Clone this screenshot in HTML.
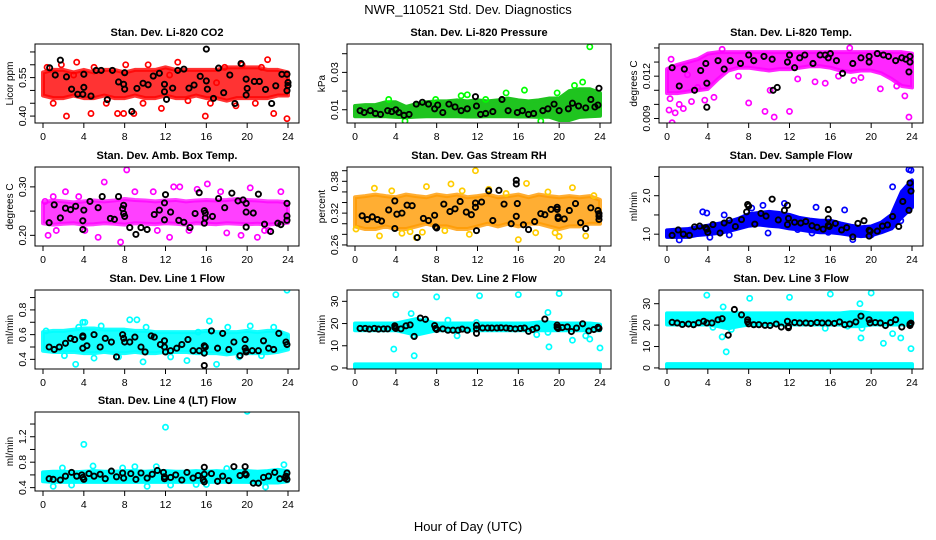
<!DOCTYPE html>
<html><head><meta charset="utf-8">
<style>
html,body{margin:0;padding:0;background:#fff;}
svg{display:block;font-family:"Liberation Sans",Arial,sans-serif;}
</style></head>
<body>
<svg id="chart" width="936" height="540" viewBox="0 0 936 540" xmlns="http://www.w3.org/2000/svg">
<rect x="0" y="0" width="936" height="540" fill="#fff"/>
<text x="468" y="14" text-anchor="middle" font-size="13">NWR_110521  Std. Dev. Diagnostics</text>
<text x="468" y="531" text-anchor="middle" font-size="13">Hour of Day (UTC)</text>
<g id="panels"></g>
</svg>
<script>
const bandHours=[0,1,2,3,4,5,6,7,8,9,10,11,12,13,14,15,16,17,18,19,20,21,22,23,24];
const xTicks=[0,4,8,12,16,20,24];

// CO2
const co2Lo=[0.48,0.47,0.47,0.48,0.47,0.47,0.48,0.47,0.47,0.48,0.47,0.47,0.48,0.47,0.47,0.48,0.47,0.47,0.46,0.47,0.47,0.47,0.47,0.48,0.48];
const co2Hi=[0.57,0.58,0.58,0.57,0.58,0.57,0.58,0.58,0.57,0.58,0.58,0.58,0.59,0.58,0.58,0.58,0.58,0.58,0.59,0.59,0.59,0.59,0.58,0.58,0.57];
const co2Pts=[[0.4,0.59],[1.8,0.60],[2.3,0.40],[3.3,0.61],[4.7,0.41],[5.0,0.59],[7.3,0.41],[7.9,0.41],[8.1,0.60],[8.9,0.41],[10.3,0.60],[11.6,0.43],[13.2,0.61],[15.9,0.40],[17.8,0.59],[18.9,0.44],[19.5,0.60],[21.4,0.59],[22.0,0.62],[22.6,0.41],[23.9,0.39],[1.0,0.45],[6.2,0.45],[9.8,0.45],[14.2,0.46],[16.4,0.45],[20.8,0.45],[3.0,0.56],[12.4,0.56],[17.0,0.53]];
const co2Ref=[[0.65,0.588],[1.7,0.618],[1.2,0.56],[2.3,0.553],[2.8,0.505],[3.4,0.485],[3.9,0.485],[4.0,0.512],[4.0,0.563],[4.7,0.478],[5.2,0.578],[5.7,0.578],[6.3,0.464],[6.8,0.578],[7.4,0.533],[7.9,0.524],[8.0,0.569],[8.0,0.505],[8.7,0.418],[9.2,0.508],[9.8,0.528],[10.3,0.522],[10.8,0.556],[11.4,0.567],[11.9,0.524],[11.9,0.495],[12.1,0.465],[12.7,0.509],[13.2,0.578],[13.8,0.583],[14.3,0.509],[14.8,0.521],[15.4,0.555],[16.0,0.661],[16.0,0.537],[16.1,0.505],[16.7,0.469],[17.2,0.587],[17.7,0.491],[18.3,0.56],[18.8,0.449],[19.4,0.605],[19.9,0.544],[20.0,0.508],[19.9,0.482],[20.7,0.535],[21.2,0.535],[21.8,0.504],[22.4,0.449],[22.8,0.518],[23.4,0.563],[23.9,0.563],[24.0,0.531],[24.0,0.519],[23.9,0.499]];
const co2Ticks=[0.40,0.45,0.50,0.55,0.60,0.65];
const co2Labels=["0.40","","","0.55","",""];

// Pressure
const presLo=[0.0065,0.0065,0.0065,0.0065,0.0062,0.006,0.0063,0.0065,0.0065,0.0065,0.0065,0.0064,0.0064,0.0065,0.0065,0.0065,0.0064,0.0064,0.0062,0.0063,0.0045,0.0045,0.0062,0.0065,0.0068];
const presHi=[0.012,0.0125,0.0125,0.014,0.014,0.0115,0.013,0.014,0.0145,0.0145,0.015,0.0145,0.015,0.0145,0.015,0.016,0.015,0.0145,0.015,0.016,0.016,0.02,0.021,0.021,0.019];
const presPts=[[23.0,0.0437],[22.3,0.0248],[21.5,0.023],[16.6,0.0205],[18.2,0.004],[11.0,0.018],[10.4,0.0175],[14.8,0.019],[19.8,0.019],[4.9,0.004],[3.3,0.0155],[7.9,0.0155],[12.8,0.0155]];
const presRef=[[0.5,0.0095],[0.9,0.0085],[1.5,0.0095],[2.0,0.008],[2.5,0.0075],[3.2,0.0095],[3.6,0.009],[4.0,0.010],[4.3,0.0085],[4.8,0.007],[5.3,0.0075],[6.0,0.013],[6.6,0.014],[7.2,0.013],[7.8,0.0105],[8.1,0.0125],[8.6,0.0085],[9.2,0.013],[9.8,0.0115],[10.4,0.0095],[11.0,0.0105],[11.8,0.017],[11.9,0.012],[12.3,0.0075],[12.8,0.008],[13.5,0.009],[14.4,0.0155],[15.0,0.0095],[15.9,0.0085],[16.4,0.0095],[17.0,0.0075],[17.5,0.008],[18.4,0.0095],[18.9,0.0105],[19.5,0.013],[20.0,0.0095],[20.9,0.0105],[21.3,0.0135],[21.9,0.012],[22.6,0.011],[23.1,0.0155],[23.5,0.0115],[23.8,0.0125],[23.9,0.0215]];
const presTicks=[0.01,0.02,0.03,0.04];
const presLabels=["0.01","","0.03",""];

// Li-820 temp
const tempLo=[0.0108,0.0108,0.0109,0.011,0.0111,0.0118,0.0124,0.0126,0.0126,0.0125,0.0124,0.0125,0.0125,0.0126,0.0127,0.0127,0.0126,0.0124,0.0123,0.0124,0.0124,0.0122,0.0118,0.0113,0.0112];
const tempHi=[0.0125,0.0128,0.013,0.0132,0.0136,0.0137,0.0137,0.0137,0.0137,0.0137,0.0137,0.0137,0.0137,0.0137,0.0137,0.0137,0.0137,0.0137,0.0137,0.0137,0.0137,0.0137,0.0137,0.0137,0.0136];
const tempPts=[[0.2,0.0096],[0.5,0.0087],[0.3,0.0104],[0.8,0.0094],[1.2,0.0100],[1.6,0.0097],[2.4,0.0102],[0.4,0.0132],[3.0,0.0112],[3.7,0.0103],[4.6,0.0105],[5.4,0.0139],[8.0,0.0101],[9.6,0.0095],[10.5,0.0091],[12.0,0.0095],[10.1,0.0110],[14.5,0.0116],[15.5,0.0115],[17.9,0.0140],[19.0,0.0119],[20.9,0.0111],[22.5,0.0113],[23.7,0.0091],[23.3,0.0106],[2.0,0.0121],[7.0,0.0120],[12.8,0.0118],[16.8,0.0120],[18.3,0.0117]];
const tempRef=[[0.5,0.0126],[1.2,0.0113],[1.7,0.0125],[2.7,0.0110],[3.3,0.0124],[3.8,0.0129],[3.9,0.0115],[3.9,0.0098],[5.0,0.0131],[5.6,0.0125],[6.2,0.0131],[7.2,0.0129],[8.0,0.0135],[8.5,0.0131],[9.5,0.0134],[10.3,0.0132],[10.4,0.0110],[10.8,0.0112],[11.8,0.0130],[12.0,0.0135],[12.5,0.0126],[13.0,0.0133],[13.5,0.0135],[14.3,0.0129],[15.0,0.0135],[15.5,0.0135],[15.8,0.0133],[16.0,0.0136],[16.6,0.0131],[17.2,0.0122],[18.2,0.0129],[19.0,0.0133],[19.8,0.0130],[19.8,0.0134],[20.6,0.0136],[21.2,0.0135],[21.7,0.0134],[22.4,0.0131],[23.0,0.0133],[23.4,0.0132],[23.7,0.0123],[23.8,0.0130],[23.8,0.0134]];
const tempTicks=[0.009,0.010,0.011,0.012,0.013,0.014];
const tempLabels=["0.009","","","0.012","",""];

// Amb box temp
const ambLo=[0.225,0.222,0.224,0.225,0.222,0.223,0.225,0.224,0.222,0.225,0.224,0.223,0.225,0.224,0.222,0.225,0.224,0.223,0.225,0.224,0.223,0.224,0.222,0.224,0.226];
const ambHi=[0.268,0.272,0.27,0.268,0.27,0.272,0.27,0.272,0.275,0.273,0.272,0.27,0.272,0.273,0.27,0.272,0.273,0.272,0.273,0.275,0.273,0.272,0.27,0.27,0.268];
const ambPts=[[0.2,0.27],[0.5,0.20],[1.0,0.28],[2.2,0.29],[3.5,0.28],[5.4,0.196],[6.0,0.31],[7.6,0.186],[8.2,0.335],[9.0,0.29],[10.8,0.29],[12.4,0.196],[12.8,0.30],[13.4,0.30],[15.1,0.295],[16.1,0.306],[17.4,0.29],[19.4,0.20],[20.3,0.298],[21.0,0.196],[22.1,0.21],[23.3,0.29],[1.3,0.21],[4.1,0.21],[11.2,0.21],[14.3,0.21],[18.0,0.205],[21.7,0.21]];
const ambRef=[[0.6,0.226],[1.1,0.263],[1.7,0.236],[2.2,0.256],[2.7,0.253],[3.2,0.260],[3.9,0.230],[3.9,0.212],[4.0,0.252],[4.6,0.270],[5.4,0.257],[5.8,0.280],[6.6,0.235],[7.0,0.233],[7.4,0.280],[7.8,0.255],[7.9,0.262],[7.9,0.245],[8.0,0.239],[8.5,0.216],[9.1,0.202],[9.6,0.216],[10.2,0.212],[10.9,0.243],[11.4,0.252],[11.9,0.232],[11.9,0.267],[12.0,0.284],[12.5,0.248],[13.3,0.231],[13.8,0.227],[14.4,0.216],[14.9,0.245],[15.3,0.288],[15.8,0.251],[15.9,0.246],[15.9,0.236],[15.8,0.225],[16.6,0.239],[17.2,0.276],[17.8,0.257],[18.5,0.287],[19.1,0.271],[19.6,0.273],[19.9,0.266],[19.9,0.248],[19.9,0.217],[20.6,0.246],[21.1,0.285],[21.7,0.223],[22.3,0.208],[23.0,0.225],[23.3,0.222],[23.9,0.266],[23.9,0.240],[23.9,0.231]];
const ambTicks=[0.20,0.25,0.30];
const ambLabels=["0.20","","0.30"];

// Gas stream RH
const rhLo=[0.295,0.29,0.29,0.295,0.29,0.29,0.295,0.30,0.295,0.295,0.29,0.29,0.295,0.30,0.295,0.30,0.295,0.30,0.30,0.295,0.29,0.295,0.295,0.30,0.30];
const rhHi=[0.35,0.352,0.355,0.352,0.35,0.355,0.352,0.35,0.355,0.352,0.355,0.35,0.352,0.355,0.35,0.352,0.355,0.35,0.355,0.352,0.35,0.352,0.35,0.352,0.345];
const rhPts=[[0.1,0.290],[1.9,0.367],[2.4,0.277],[3.6,0.362],[4.6,0.282],[5.4,0.285],[6.0,0.274],[7.0,0.370],[8.8,0.287],[9.4,0.375],[11.2,0.280],[11.8,0.400],[13.1,0.365],[16.0,0.270],[16.8,0.376],[17.7,0.283],[19.6,0.283],[20.0,0.276],[21.3,0.368],[22.6,0.277],[23.4,0.353],[10.5,0.362],[14.8,0.357],[18.9,0.360],[6.6,0.284]];
const rhRef=[[0.7,0.315],[1.2,0.308],[1.7,0.313],[2.2,0.308],[2.6,0.305],[3.3,0.326],[3.9,0.343],[3.9,0.291],[4.1,0.318],[4.6,0.320],[5.1,0.335],[5.6,0.334],[6.1,0.274],[6.7,0.310],[7.2,0.306],[7.8,0.316],[7.9,0.294],[8.0,0.292],[8.7,0.337],[9.3,0.323],[9.8,0.328],[10.3,0.342],[10.9,0.322],[11.4,0.317],[11.8,0.339],[11.8,0.331],[11.9,0.287],[12.4,0.341],[13.1,0.362],[13.5,0.306],[14.1,0.363],[14.6,0.337],[15.3,0.300],[15.8,0.382],[15.8,0.375],[15.8,0.314],[15.9,0.338],[16.5,0.298],[17.0,0.289],[17.6,0.304],[18.2,0.319],[18.6,0.317],[19.2,0.327],[19.8,0.331],[19.8,0.327],[19.9,0.310],[19.9,0.313],[20.5,0.309],[21.0,0.325],[21.6,0.338],[22.1,0.302],[22.6,0.291],[23.1,0.330],[23.9,0.319],[23.9,0.314],[23.9,0.308],[23.8,0.325]];
const rhTicks=[0.26,0.28,0.30,0.32,0.34,0.36,0.38,0.40];
const rhLabels=["0.26","","","0.32","","","0.38",""];

// Sample flow
const flowLo=[0.93,0.93,0.93,0.98,1.0,1.03,1.08,1.15,1.22,1.25,1.22,1.2,1.15,1.12,1.08,1.05,1.05,1.02,0.98,0.95,0.97,1.05,1.15,1.45,1.7];
const flowHi=[1.10,1.12,1.13,1.18,1.22,1.27,1.32,1.40,1.52,1.55,1.58,1.55,1.5,1.42,1.38,1.35,1.35,1.28,1.22,1.18,1.2,1.3,1.5,2.1,2.4];
const flowPts=[[1.2,0.85],[3.5,1.58],[3.9,1.55],[4.2,0.92],[5.6,1.5],[8.3,1.68],[9.4,1.75],[9.9,1.03],[11.5,1.8],[14.2,1.03],[14.6,1.7],[15.8,1.05],[17.4,1.63],[18.2,0.86],[20.0,0.98],[22.1,2.23],[23.7,2.68],[23.9,2.66],[22.9,1.35],[12.8,1.12],[6.1,0.98]];
const flowRef=[[0.5,0.97],[1.1,1.11],[1.6,1.00],[2.2,0.97],[2.7,1.19],[3.2,1.21],[3.8,1.17],[3.9,1.13],[4.0,1.05],[4.5,1.25],[5.2,1.03],[5.6,1.29],[6.1,1.36],[6.7,1.20],[7.3,1.38],[7.8,1.58],[7.9,1.77],[8.0,1.73],[8.6,1.26],[9.2,1.54],[9.7,1.47],[10.3,1.91],[10.9,1.37],[11.5,1.62],[11.8,1.75],[11.9,1.41],[11.8,1.25],[12.5,1.31],[13.1,1.29],[13.6,1.33],[14.2,1.22],[14.7,1.18],[15.3,1.13],[15.8,1.64],[15.8,1.40],[15.8,1.23],[15.9,1.20],[16.5,1.28],[17.1,1.11],[17.6,1.17],[18.2,0.93],[18.7,1.28],[19.3,1.35],[19.8,1.10],[19.8,0.95],[19.9,1.08],[20.6,1.08],[21.1,1.21],[21.6,1.24],[22.1,1.46],[22.7,1.20],[23.1,1.85],[23.8,2.33],[23.9,2.12],[23.7,1.62]];
const flowTicks=[1.0,1.5,2.0,2.5];
const flowLabels=["1.0","","2.0",""];

// Line 1
const l1Lo=[0.47,0.46,0.46,0.46,0.45,0.45,0.46,0.45,0.45,0.46,0.45,0.45,0.46,0.46,0.46,0.45,0.45,0.45,0.44,0.45,0.45,0.45,0.45,0.46,0.48];
const l1Hi=[0.62,0.63,0.63,0.64,0.65,0.65,0.64,0.64,0.64,0.63,0.63,0.62,0.62,0.62,0.62,0.62,0.63,0.62,0.62,0.62,0.63,0.62,0.63,0.63,0.60];
const l1Pts=[[0.3,0.63],[2.1,0.43],[3.2,0.36],[3.5,0.66],[3.9,0.70],[4.1,0.70],[5.7,0.67],[8.5,0.72],[9.2,0.72],[9.8,0.38],[10.1,0.66],[14.1,0.39],[16.3,0.71],[17.0,0.36],[18.1,0.66],[20.3,0.67],[22.6,0.66],[23.9,0.96],[5.0,0.41],[12.5,0.42],[19.2,0.42],[21.4,0.43],[7.4,0.42],[15.2,0.62]];
const l1Ref=[[0.6,0.50],[1.1,0.48],[1.6,0.50],[2.2,0.53],[2.7,0.57],[3.1,0.56],[3.9,0.59],[3.9,0.58],[3.9,0.49],[4.3,0.51],[5.0,0.60],[5.6,0.50],[6.1,0.57],[6.7,0.54],[7.2,0.42],[7.8,0.60],[7.9,0.57],[8.0,0.54],[8.5,0.54],[9.0,0.58],[9.6,0.50],[10.0,0.46],[10.6,0.59],[10.9,0.58],[11.5,0.52],[11.9,0.55],[11.9,0.50],[12.0,0.46],[12.5,0.47],[13.1,0.49],[13.6,0.52],[14.2,0.56],[14.7,0.47],[15.3,0.47],[15.8,0.51],[15.9,0.50],[15.8,0.45],[15.8,0.35],[16.5,0.63],[17.1,0.49],[17.6,0.61],[18.2,0.48],[18.7,0.54],[19.3,0.43],[19.8,0.56],[19.8,0.49],[19.9,0.47],[19.9,0.46],[20.5,0.47],[21.1,0.47],[21.6,0.55],[22.1,0.49],[22.6,0.48],[23.1,0.61],[23.8,0.54],[23.9,0.52]];
const l1Ticks=[0.4,0.5,0.6,0.7,0.8,0.9];
const l1Labels=["0.4","","0.6","","0.8",""];

// Line 2
const l2Lo=[17,17,17,17,17,16,15,16,17,17,17,17,17,17,17,17,17,17,17,17,17,17,17,17,17];
const l2Hi=[20,20,20,20,20,21,22,21,20,20,20,20,20,20,20,20,20,20,20.5,20.5,20,20,20,20,19.5];
const l2ZeroLo=[0,0,0,0,0,0,0,0,0,0,0,0,0,0,0,0,0,0,0,0,0,0,0,0,0];
const l2ZeroHi=[1.6,1.6,1.6,1.6,1.6,1.6,1.6,1.6,1.6,1.6,1.6,1.6,1.6,1.6,1.6,1.6,1.6,1.6,1.6,1.6,1.6,1.6,1.6,1.6,1.6];
const l2Pts=[[4.0,33],[8.0,32],[12.2,32.5],[16.0,33],[20.0,33.5],[3.8,8.5],[5.5,24.5],[5.7,14.5],[5.8,5.5],[7.0,21],[9.1,21.5],[10.0,14.5],[18.9,25],[18.9,16],[19.0,9.5],[21.3,12.5],[22.6,14.5],[23.0,13],[24.0,9],[11.9,20.5],[17.8,15]];
const l2Ref=[[0.5,17.8],[1.0,17.8],[1.4,17.5],[1.9,17.8],[2.3,17.5],[2.8,17.6],[3.2,17.6],[3.9,19.0],[3.9,18.2],[4.0,17.8],[4.5,17.6],[5.0,19.0],[5.4,19.4],[5.8,14.2],[6.4,22.5],[6.9,21.9],[7.8,19.1],[7.9,17.8],[8.0,17.3],[8.6,17.6],[9.1,17.0],[9.6,17.0],[10.1,17.0],[10.5,17.5],[11.0,17.0],[11.9,19.2],[11.9,17.6],[11.9,15.6],[12.5,18.0],[13.0,18.0],[13.4,18.0],[13.9,18.0],[14.3,18.1],[14.8,18.0],[15.2,17.8],[15.7,17.6],[16.2,17.8],[16.6,18.0],[17.0,16.5],[17.4,17.3],[17.8,18.0],[18.6,22.0],[19.8,19.3],[19.8,18.3],[19.9,17.8],[20.3,18.2],[20.8,18.5],[21.2,16.4],[21.7,18.0],[22.3,19.9],[22.9,16.7],[23.4,17.3],[23.8,18.3],[23.9,17.8]];
const l2Ticks=[0,10,20,30];
const l2Labels=["0","10","20","30"];

// Line 3
const l3Lo=[20.3,20.3,20.3,20.3,20.3,19.5,18.5,19.5,20.3,20.3,20.3,20.3,20.3,20.3,20.3,20.3,20.3,20.3,19.5,19.5,20.3,20.3,20.3,20.3,20.3];
const l3Hi=[25.5,25.5,25.5,25.5,25.5,25.5,25.5,25.5,25.5,25.5,25.5,25.5,25.5,25.5,25.5,25.5,25.5,25.5,26,26,25.5,25.5,25.5,25.5,25.5];
const l3ZeroLo=[0,0,0,0,0,0,0,0,0,0,0,0,0,0,0,0,0,0,0,0,0,0,0,0,0];
const l3ZeroHi=[1.8,1.8,1.8,1.8,1.8,1.8,1.8,1.8,1.8,1.8,1.8,1.8,1.8,1.8,1.8,1.8,1.8,1.8,1.8,1.8,1.8,1.8,1.8,1.8,1.8];
const l3Pts=[[3.9,34],[5.5,28.5],[5.4,14.5],[5.8,7.5],[8.1,32.5],[12.0,33],[16.0,34.5],[18.9,30],[19.0,14],[20.0,35],[21.2,11.5],[22.1,16],[22.9,14],[23.9,9],[4.5,19],[5.6,19.5],[6.3,18],[17.7,19.5],[19.1,18.5],[15.5,18.5]];
const l3Ref=[[0.5,21.3],[1.0,21.0],[1.5,20.3],[2.1,20.5],[2.6,20.2],[3.1,21.1],[3.6,21.8],[3.9,21.0],[4.4,21.0],[5.0,22.5],[5.4,23.0],[6.0,15.3],[6.6,27.3],[7.3,24.8],[7.9,22.5],[7.9,21.5],[8.0,20.6],[8.5,20.2],[9.0,20.2],[9.6,19.9],[10.1,19.8],[10.7,20.5],[11.2,19.1],[11.8,21.8],[11.9,19.4],[11.9,18.8],[12.5,21.2],[13.0,21.0],[13.6,21.0],[14.1,20.8],[14.7,21.2],[15.2,21.0],[15.8,21.0],[16.4,20.8],[16.9,21.5],[17.4,20.2],[17.9,20.5],[18.5,21.5],[19.0,24.2],[19.8,22.5],[19.9,21.0],[20.4,21.2],[20.9,21.0],[21.4,19.8],[21.9,21.2],[22.4,22.5],[23.0,19.1],[23.8,20.5],[23.9,20.9],[23.8,19.8]];
const l3Ticks=[0,10,20,30];
const l3Labels=["0","10","20","30"];

// Line 4
const l4Lo=[0.50,0.49,0.49,0.49,0.49,0.49,0.49,0.49,0.49,0.49,0.49,0.49,0.49,0.49,0.49,0.49,0.49,0.49,0.49,0.49,0.49,0.48,0.48,0.48,0.50];
const l4Hi=[0.64,0.65,0.65,0.64,0.65,0.66,0.65,0.65,0.66,0.66,0.65,0.66,0.66,0.65,0.65,0.66,0.65,0.66,0.65,0.66,0.66,0.65,0.66,0.68,0.66];
const l4Pts=[[4.0,1.08],[12.0,1.35],[20.0,1.6],[1.0,0.42],[2.8,0.44],[4.9,0.74],[9.0,0.73],[10.2,0.42],[11.1,0.73],[12.5,0.44],[15.0,0.45],[16.0,0.45],[21.8,0.41],[23.6,0.76],[7.8,0.71],[1.9,0.71],[18.0,0.70]];
const l4Ref=[[0.6,0.54],[1.0,0.53],[1.7,0.52],[2.2,0.58],[2.8,0.64],[3.3,0.58],[3.8,0.60],[3.9,0.56],[4.0,0.53],[4.5,0.62],[5.0,0.58],[5.6,0.61],[6.1,0.54],[6.7,0.66],[7.2,0.57],[7.8,0.63],[7.9,0.55],[8.6,0.62],[9.1,0.53],[9.6,0.63],[10.2,0.55],[10.7,0.61],[11.2,0.67],[11.8,0.64],[11.9,0.57],[11.9,0.54],[12.5,0.56],[13.0,0.60],[13.6,0.52],[14.1,0.64],[14.7,0.55],[15.2,0.59],[15.8,0.72],[15.8,0.61],[15.7,0.52],[15.8,0.49],[16.5,0.62],[17.1,0.50],[17.6,0.58],[18.2,0.51],[18.7,0.73],[19.3,0.59],[19.8,0.73],[19.8,0.62],[19.9,0.60],[20.6,0.47],[21.1,0.47],[21.6,0.56],[22.1,0.58],[22.7,0.64],[23.2,0.54],[23.7,0.55],[23.8,0.58],[23.9,0.53],[23.9,0.63]];
const l4Ticks=[0.4,0.6,0.8,1.0,1.2,1.4];
const l4Labels=["0.4","","0.8","","1.2",""];

const panelDefs=[
 {id:"co2",title:"Stan. Dev. Li-820 CO2",ylab:"Licor ppm",row:0,col:0,ymin:0.373,ymax:0.681,bands:[[co2Lo,co2Hi]],pts:co2Pts,ref:co2Ref,ticks:co2Ticks,labels:co2Labels,band:"#ff0000",bandOp:0.8,pt:"#ff0000"},
 {id:"pressure",title:"Stan. Dev. Li-820 Pressure",ylab:"kPa",row:0,col:1,ymin:0.0029,ymax:0.0452,bands:[[presLo,presHi]],pts:presPts,ref:presRef,ticks:presTicks,labels:presLabels,band:"#1fc41f",bandOp:1,pt:"#00ff00"},
 {id:"li820-temp",title:"Stan. Dev. Li-820 Temp.",ylab:"degrees C",row:0,col:2,ymin:0.00868,ymax:0.01428,bands:[[tempLo,tempHi]],pts:tempPts,ref:tempRef,ticks:tempTicks,labels:tempLabels,band:"#ff00ff",bandOp:0.85,pt:"#ff00ff"},
 {id:"amb-box-temp",title:"Stan. Dev. Amb. Box Temp.",ylab:"degrees C",row:1,col:0,ymin:0.178,ymax:0.341,bands:[[ambLo,ambHi]],pts:ambPts,ref:ambRef,ticks:ambTicks,labels:ambLabels,band:"#ff00ff",bandOp:0.75,pt:"#ff00ff"},
 {id:"gas-stream-rh",title:"Stan. Dev. Gas Stream RH",ylab:"percent",row:1,col:1,ymin:0.258,ymax:0.407,bands:[[rhLo,rhHi]],pts:rhPts,ref:rhRef,ticks:rhTicks,labels:rhLabels,band:"#ff9a00",bandOp:0.8,pt:"#ffcc00"},
 {id:"sample-flow",title:"Stan. Dev. Sample Flow",ylab:"ml/min",row:1,col:2,ymin:0.693,ymax:2.746,bands:[[flowLo,flowHi]],pts:flowPts,ref:flowRef,ticks:flowTicks,labels:flowLabels,band:"#0000ff",bandOp:1,pt:"#0000ff"},
 {id:"line1-flow",title:"Stan. Dev. Line 1 Flow",ylab:"ml/min",row:2,col:0,ymin:0.322,ymax:0.961,bands:[[l1Lo,l1Hi]],pts:l1Pts,ref:l1Ref,ticks:l1Ticks,labels:l1Labels,band:"#00ffff",bandOp:0.9,pt:"#00ffff"},
 {id:"line2-flow",title:"Stan. Dev. Line 2 Flow",ylab:"ml/min",row:2,col:1,ymin:-0.46,ymax:35.1,bands:[[l2Lo,l2Hi],[l2ZeroLo,l2ZeroHi]],pts:l2Pts,ref:l2Ref,ticks:l2Ticks,labels:l2Labels,band:"#00ffff",bandOp:1,pt:"#00ffff"},
 {id:"line3-flow",title:"Stan. Dev. Line 3 Flow",ylab:"ml/min",row:2,col:2,ymin:-0.5,ymax:36.4,bands:[[l3Lo,l3Hi],[l3ZeroLo,l3ZeroHi]],pts:l3Pts,ref:l3Ref,ticks:l3Ticks,labels:l3Labels,band:"#00ffff",bandOp:1,pt:"#00ffff"},
 {id:"line4-flow",title:"Stan. Dev. Line 4 (LT) Flow",ylab:"ml/min",row:3,col:0,ymin:0.347,ymax:1.589,bands:[[l4Lo,l4Hi]],pts:l4Pts,ref:l4Ref,ticks:l4Ticks,labels:l4Labels,band:"#00ffff",bandOp:1,pt:"#00ffff"}
];

const NS="http://www.w3.org/2000/svg";
const root=document.getElementById("panels");
const rowTops=[44,167,290,412];
function mk(tag,attrs,parent){const e=document.createElementNS(NS,tag);for(const k in attrs)e.setAttribute(k,attrs[k]);parent.appendChild(e);return e;}

panelDefs.forEach(p=>{
  const L=35+312*p.col, T=rowTops[p.row], W=264, H=79;
  const xs=h=>L+8+h*245/24;
  const ys=v=>T+H-(v-p.ymin)/(p.ymax-p.ymin)*H;
  const g=mk("g",{},root);
  
  
  const cp=mk("clipPath",{id:"clip-"+p.id},g);
  mk("rect",{x:L,y:T,width:W,height:H},cp);
  const t=mk("text",{x:L+W/2,y:T-8,"text-anchor":"middle","font-size":"11","font-weight":"bold"},g);
  t.textContent=p.title;
  
  
  const plot=mk("g",{"clip-path":"url(#clip-"+p.id+")"},g);
  p.bands.forEach((b,bi)=>{
    const lo=b[0],hi=b[1];
    let pts=bandHours.map((h,i)=>xs(h)+","+ys(hi[i]));
    pts=pts.concat(bandHours.slice().reverse().map((h,j)=>{const i=bandHours.length-1-j;return xs(h)+","+ys(lo[i]);}));
    const poly=mk("polygon",{points:pts.join(" "),fill:p.band,"fill-opacity":p.bandOp,stroke:p.band,"stroke-opacity":p.bandOp,"stroke-width":"4","stroke-linejoin":"round"},plot);
    
    
  });
  p.pts.forEach(d=>{
    const c=mk("circle",{cx:xs(d[0]),cy:ys(d[1]),r:"2.6",fill:"none",stroke:p.pt,"stroke-width":"1.7"},plot);
    
    
  });
  p.ref.forEach(d=>{
    const c=mk("circle",{cx:xs(d[0]),cy:ys(d[1]),r:"2.6",fill:"none",stroke:"#000","stroke-width":"1.9"},plot);
    
    
  });
  const box=mk("rect",{x:L,y:T,width:W,height:H,fill:"none",stroke:"#000","stroke-width":"1"},g);
  
  
  const xa=mk("g",{},g);
  
  
  mk("line",{x1:xs(0),x2:xs(24),y1:T+H,y2:T+H,stroke:"#000"},xa);
  xTicks.forEach(h=>{
    mk("line",{x1:xs(h),x2:xs(h),y1:T+H,y2:T+H+5,stroke:"#000"},xa);
    const lt=mk("text",{x:xs(h),y:T+H+17,"text-anchor":"middle","font-size":"10.5"},xa);
    lt.textContent=String(h);
  });
  const ya=mk("g",{},g);
  
  
  const y0=ys(p.ticks[0]), y1=ys(p.ticks[p.ticks.length-1]);
  mk("line",{x1:L,x2:L,y1:Math.max(y1,T),y2:Math.min(y0,T+H),stroke:"#000"},ya);
  p.ticks.forEach((v,i)=>{
    const yy=ys(v);
    if(yy<T-0.5||yy>T+H+0.5)return;
    mk("line",{x1:L-5,x2:L,y1:yy,y2:yy,stroke:"#000"},ya);
    if(p.labels[i]){
      const lt=mk("text",{x:L-9,y:yy,"text-anchor":"middle","font-size":"10.5",transform:"rotate(-90 "+(L-9)+" "+yy+")"},ya);
      lt.textContent=p.labels[i];
    }
  });
  const yt=mk("text",{x:L-22,y:T+H/2,"text-anchor":"middle","font-size":"10",transform:"rotate(-90 "+(L-22)+" "+(T+H/2)+")"},g);
  yt.textContent=p.ylab;
  
  
});
</script>
</body></html>
